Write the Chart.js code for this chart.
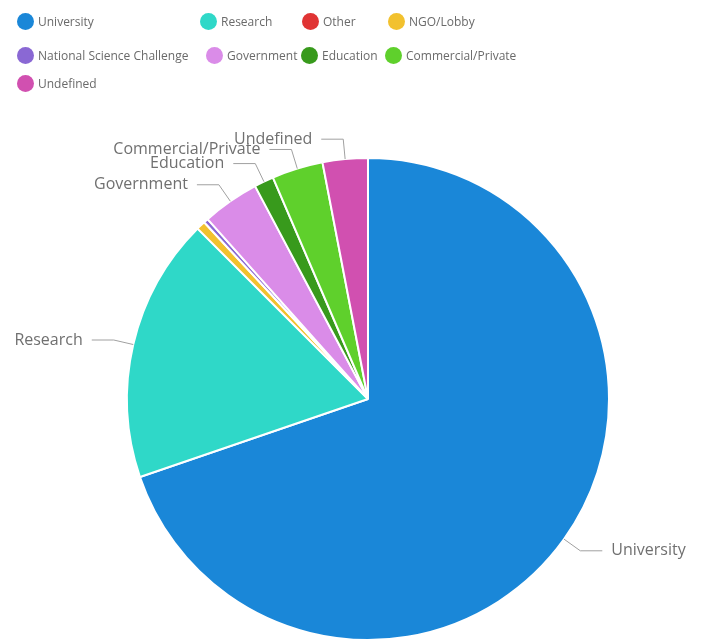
<!DOCTYPE html>
<html>
<head>
<meta charset="utf-8">
<script src="https://cdn.jsdelivr.net/npm/chart.js@4"></script>
<style>
  html, body { margin: 0; padding: 0; background: #fff; }
  #wrap { position: relative; width: 712px; height: 641px; overflow: hidden; }
  #fundingChart { position: absolute; left: 0; top: 0; }
  #legend { font-family: "Open Sans", sans-serif; font-size: 12px; color: #6a6a6a; }
  .item { position: absolute; display: flex; align-items: center; height: 17px; white-space: nowrap; }
  .dot { width: 17px; height: 17px; border-radius: 50%; margin-right: 4px; flex: none; }
</style>
</head>
<body>
<div id="wrap">
  <canvas id="fundingChart" width="712" height="641"></canvas>
  <div id="legend"></div>
</div>
<script>
const sectors = ['University', 'Research', 'Other', 'NGO/Lobby', 'National Science Challenge',
  'Government', 'Education', 'Commercial/Private', 'Undefined'];
const shares = [69.2, 17.6, 0, 0.6, 0.3, 3.8, 1.3, 3.4, 3.0];
const sectorColors = ['#1a87d8', '#2fd8c8', '#e03434', '#f2c12e', '#8a68d4',
  '#da8ce8', '#389a1c', '#5fd02c', '#d150b0'];
// slices too thin to get a callout label
const labelled = [true, true, false, false, false, true, true, true, true];

// legend rows: item left offsets per row, row tops
const legendRows = [[17, 200, 302, 388], [17, 206, 301, 385], [17]];
const legendRowTop = [13, 47, 75];

const legendBox = document.getElementById('legend');
let n = 0;
legendRows.forEach((row, r) => {
  row.forEach(left => {
    const i = n++;
    if (i >= sectors.length) return;
    const item = document.createElement('div');
    item.className = 'item';
    item.style.left = left + 'px';
    item.style.top = legendRowTop[r] + 'px';
    item.innerHTML = '<span class="dot" style="background:' + sectorColors[i] + '"></span>' + sectors[i];
    legendBox.appendChild(item);
  });
});

// callout labels with a bent connector, like the old highcharts pies
const calloutLabels = {
  id: 'calloutLabels',
  afterDatasetsDraw(chart) {
    const ctx = chart.ctx;
    const meta = chart.getDatasetMeta(0);
    ctx.save();
    ctx.font = '16px "Open Sans", sans-serif';
    ctx.textBaseline = 'middle';
    meta.data.forEach((arc, i) => {
      if (!labelled[i] || !shares[i]) return;
      const p = arc.getProps(['x', 'y', 'startAngle', 'endAngle', 'outerRadius'], true);
      const mid = (p.startAngle + p.endAngle) / 2;
      const cos = Math.cos(mid), sin = Math.sin(mid);
      const right = cos >= 0;
      const x0 = p.x + cos * p.outerRadius, y0 = p.y + sin * p.outerRadius;
      const x1 = p.x + cos * (p.outerRadius + 20), y1 = p.y + sin * (p.outerRadius + 20);
      const x2 = x1 + (right ? 22 : -22);
      ctx.strokeStyle = '#a0a0a0';
      ctx.lineWidth = 1;
      ctx.beginPath();
      ctx.moveTo(x0, y0);
      ctx.lineTo(x1, y1);
      ctx.lineTo(x2, y1);
      ctx.stroke();
      ctx.fillStyle = '#707070';
      ctx.textAlign = right ? 'left' : 'right';
      ctx.fillText(sectors[i], x2 + (right ? 9 : -9), y1);
    });
    ctx.restore();
  }
};

new Chart(document.getElementById('fundingChart'), {
  type: 'pie',
  data: {
    labels: sectors,
    datasets: [{
      data: shares,
      backgroundColor: sectorColors,
      borderColor: '#ffffff',
      borderWidth: 2
    }]
  },
  options: {
    responsive: false,
    animation: false,
    layout: { padding: { top: 157, left: 24, right: 0, bottom: 0 } },
    plugins: {
      legend: { display: false },
      tooltip: { enabled: false }
    }
  },
  plugins: [calloutLabels]
});
</script>
</body>
</html>
